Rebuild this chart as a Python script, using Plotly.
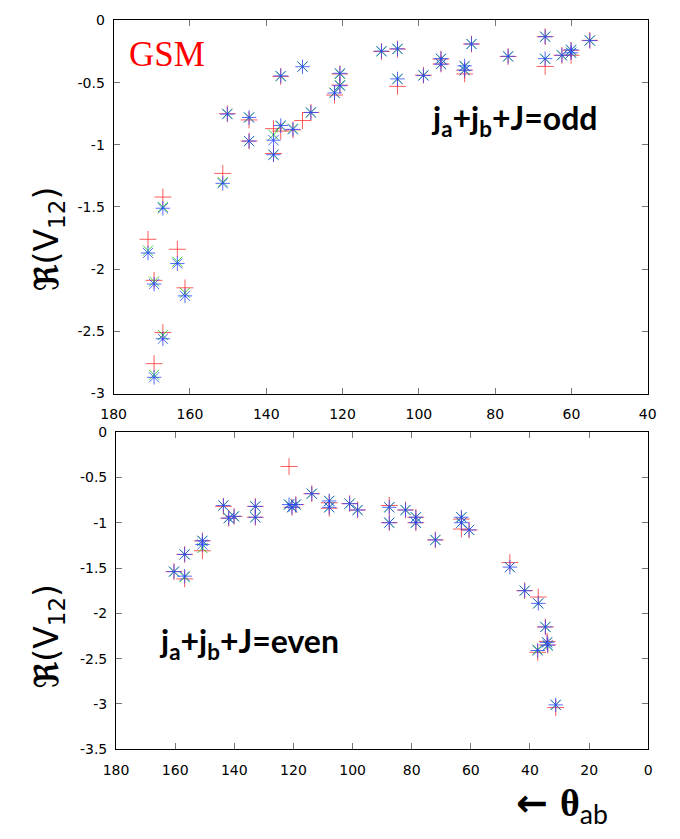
import plotly.graph_objects as go

W, H = 680, 839

# ---- upper panel: j_a + j_b + J odd ----
odd_theta = [171.0, 169.4, 169.4, 167.1, 167.1, 163.3, 161.3, 151.4, 150.2, 144.5,
             144.5, 138.1, 138.1, 136.2, 136.2, 133.0, 130.5, 128.3, 122.1, 120.7,
             120.7, 109.8, 105.6, 105.6, 98.8, 94.2, 94.2, 88.0, 88.0, 86.2,
             76.6, 66.9, 66.9, 62.5, 60.1, 60.1, 55.2]
odd_red = [-1.76, -2.09, -2.76, -1.42, -2.51, -1.84, -2.15, -1.23, -0.75, -0.80,
           -0.97, -0.87, -1.07, -0.89, -0.45, -0.88, -0.805, -0.74, -0.60, -0.43,
           -0.52, -0.25, -0.23, -0.53, -0.44, -0.31, -0.35, -0.43, -0.40, -0.19,
           -0.29, -0.13, -0.37, -0.28, -0.24, -0.28, -0.16]
odd_green = [-1.85, -2.10, -2.85, -1.50, -2.53, -1.94, -2.19, -1.30, -0.75, -0.78,
             -0.97, -0.92, -1.08, -0.85, -0.45, -0.87, -0.37, -0.74, -0.58, -0.43,
             -0.52, -0.25, -0.23, -0.47, -0.44, -0.31, -0.35, -0.37, -0.40, -0.19,
             -0.29, -0.13, -0.31, -0.28, -0.24, -0.26, -0.16]
odd_blue = [-1.87, -2.12, -2.87, -1.51, -2.56, -1.955, -2.215, -1.31, -0.753, -0.78,
            -0.97, -0.963, -1.08, -0.845, -0.446, -0.876, -0.372, -0.74, -0.583, -0.425,
            -0.525, -0.246, -0.228, -0.47, -0.443, -0.307, -0.352, -0.365, -0.40, -0.189,
            -0.288, -0.131, -0.307, -0.28, -0.236, -0.26, -0.162]

# ---- lower panel: j_a + j_b + J even ----
even_theta = [160.4, 156.8, 156.8, 150.8, 150.8, 143.7, 141.9, 140.1, 132.9, 132.9,
              121.5, 120.5, 119.2, 113.8, 107.9, 107.9, 101.0, 98.3, 87.6, 87.6,
              82.1, 78.6, 78.6, 72.0, 63.2, 63.2, 60.6, 46.8, 41.8, 37.2,
              37.4, 34.8, 34.2, 34.0, 31.3]
even_red = [-1.54, -1.35, -1.62, -1.20, -1.31, -0.82, -0.95, -0.93, -0.82, -0.94,
            -0.38, -0.83, -0.80, -0.68, -0.78, -0.84, -0.79, -0.86, -0.81, -1.00,
            -0.86, -0.94, -1.00, -1.19, -0.96, -1.07, -1.08, -1.44, -1.75, -1.82,
            -2.43, -2.15, -2.31, -2.35, -3.04]
even_green = [-1.54, -1.35, -1.60, -1.20, -1.28, -0.81, -0.95, -0.93, -0.82, -0.94,
              -0.80, -0.83, -0.80, -0.68, -0.76, -0.83, -0.79, -0.86, -0.83, -1.00,
              -0.86, -0.94, -1.00, -1.19, -0.94, -1.00, -1.08, -1.49, -1.75, -1.89,
              -2.40, -2.15, -2.32, -2.36, -3.01]
even_blue = [-1.54, -1.35, -1.59, -1.20, -1.24, -0.81, -0.95, -0.93, -0.82, -0.94,
             -0.80, -0.83, -0.80, -0.68, -0.76, -0.83, -0.79, -0.86, -0.83, -1.00,
             -0.86, -0.94, -1.00, -1.19, -0.94, -1.00, -1.08, -1.49, -1.75, -1.89,
             -2.41, -2.15, -2.32, -2.35, -3.01]

# tick labels
odd_xticks = [180, 160, 140, 120, 100, 80, 60, 40]
odd_yticks = [0, -0.5, -1, -1.5, -2, -2.5, -3]
even_xticks = [180, 160, 140, 120, 100, 80, 60, 40, 20, 0]
even_yticks = [0, -0.5, -1, -1.5, -2, -2.5, -3, -3.5]

RED = "rgba(255,50,50,0.8)"
GREEN = "rgba(0,200,0,0.8)"
BLUE = "rgba(40,70,255,0.8)"


def px_x(x):
    return x / W


def px_y(y):
    return 1 - y / H


fig = go.Figure()

series = [
    ("x", "y", odd_theta, odd_red, odd_green, odd_blue),
    ("x2", "y2", even_theta, even_red, even_green, even_blue),
]
for xa, ya, th, r, g, b in series:
    fig.add_trace(go.Scatter(x=th, y=r, xaxis=xa, yaxis=ya, mode="markers",
                             marker=dict(symbol="cross-thin", size=12,
                                         line=dict(color=RED, width=1)),
                             showlegend=False))
    fig.add_trace(go.Scatter(x=th, y=g, xaxis=xa, yaxis=ya, mode="markers",
                             marker=dict(symbol="x-thin", size=10,
                                         line=dict(color=GREEN, width=1)),
                             showlegend=False))
    fig.add_trace(go.Scatter(x=th, y=b, xaxis=xa, yaxis=ya, mode="markers",
                             marker=dict(symbol="asterisk", size=12,
                                         line=dict(color=BLUE, width=1)),
                             showlegend=False))

tick_font = dict(family="DejaVu Sans", size=14, color="black")


def axis(domain, rng, ticks, anchor, standoff):
    return dict(domain=domain, range=rng, anchor=anchor,
                tickmode="array", tickvals=ticks, ticktext=[f"{t:g}" for t in ticks],
                ticks="inside", ticklen=6, tickcolor="#777", tickwidth=1,
                ticklabelstandoff=standoff,
                showline=True, linecolor="black", linewidth=1, mirror="allticks",
                showgrid=False, zeroline=False, tickfont=tick_font)


fig.update_layout(
    width=W, height=H,
    margin=dict(l=0, r=0, t=0, b=0),
    paper_bgcolor="white", plot_bgcolor="white",
    xaxis=axis([px_x(104), px_x(656)], [180, 40], odd_xticks, "y", 8),
    yaxis=axis([px_y(393), px_y(12.7)], [-3, 0], odd_yticks, "x", 5),
    xaxis2=axis([px_x(106.5), px_x(656.5)], [180, 0], even_xticks, "y2", 8),
    yaxis2=axis([px_y(755.7), px_y(432.3)], [-3.5, 0], even_yticks, "x2", 5),
)

ylab = "<b>ℜ</b>(V<sub>12</sub>)"
label_font = dict(family="DejaVu Sans", size=33, color="black")
cond_font = dict(family="Lato", size=32, color="black")
annotations = [
    dict(x=px_x(159), y=px_y(47), text="GSM",
         font=dict(family="Liberation Serif", size=35, color="red")),
    dict(x=px_x(518), y=px_y(114), text="<b>j<sub>a</sub>+j<sub>b</sub>+J=odd</b>",
         font=cond_font),
    dict(x=px_x(244), y=px_y(647), text="<b>j<sub>a</sub>+j<sub>b</sub>+J=even</b>",
         font=cond_font),
    dict(x=px_x(37), y=px_y(235), text=ylab, textangle=-90, font=label_font),
    dict(x=px_x(37), y=px_y(640), text=ylab, textangle=-90, font=label_font),
    dict(x=px_x(567), y=px_y(813),
         text="<b>←</b> <span style=\"font-family:'Liberation Serif'\"><b>θ</b></span>"
              "<span style=\"font-family:Lato\"><sub>ab</sub></span>",
         font=dict(family="DejaVu Sans", size=38, color="black")),
]
for a in annotations:
    a.update(xref="paper", yref="paper", showarrow=False,
             xanchor="center", yanchor="middle")
fig.update_layout(annotations=annotations)

fig.write_html("out.html")
